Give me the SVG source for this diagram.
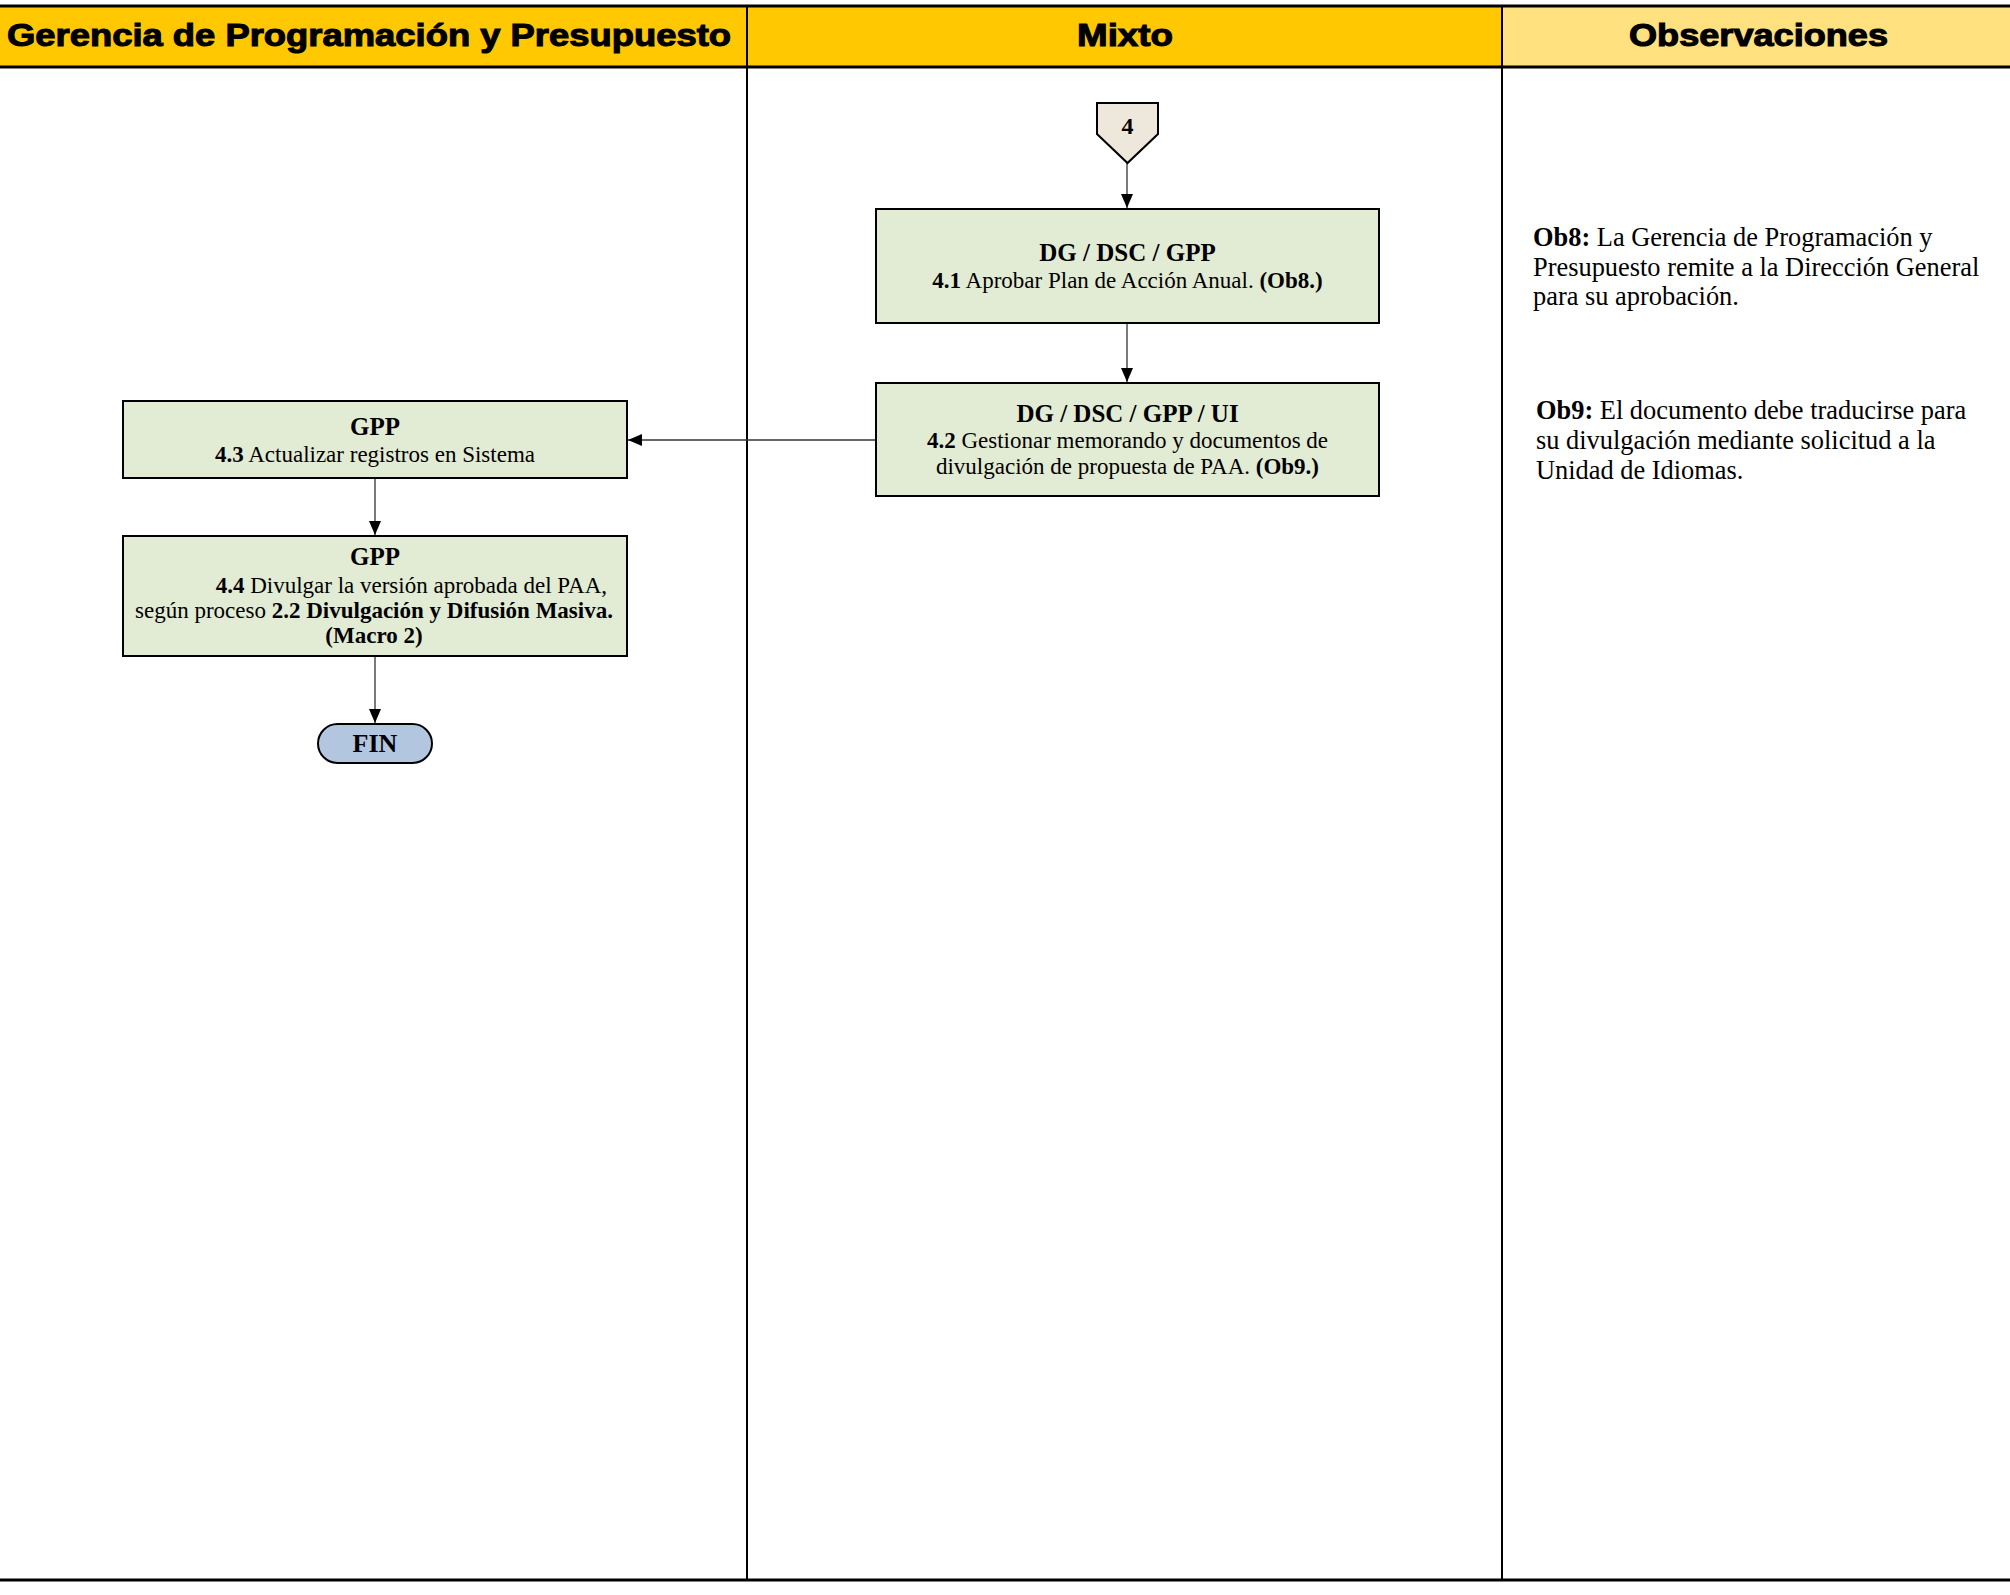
<svg xmlns="http://www.w3.org/2000/svg" width="2010" height="1595" viewBox="0 0 2010 1595">
<defs>
<style>
.hdr{font-family:"Liberation Sans",Arial,sans-serif;font-weight:bold;font-size:32px;fill:#000;stroke:#000;stroke-width:1.1}
.box{fill:#E2EBD4;stroke:#000;stroke-width:2}
.t{font-family:"Liberation Serif","Times New Roman",serif;font-size:23px;fill:#000;text-anchor:middle}
.ti{font-family:"Liberation Serif","Times New Roman",serif;font-size:25px;font-weight:bold;fill:#000;text-anchor:middle}
.ob{font-family:"Liberation Serif","Times New Roman",serif;font-size:26.4px;fill:#000}
.b{font-weight:bold}
.con{stroke:#333;stroke-width:1.3;fill:none}
</style>
<marker id="arr" markerWidth="14" markerHeight="14" viewBox="0 0 14 14" refX="14" refY="7" orient="auto" markerUnits="userSpaceOnUse">
<path d="M0,1 L14,7 L0,13 Z" fill="#000"/>
</marker>
</defs>
<rect width="2010" height="1595" fill="#fff"/>
<g id="headers">
<rect x="0" y="6" width="1502" height="61" fill="#FFC800"/>
<rect x="1502" y="6" width="508" height="61" fill="#FFE17F"/>
<line x1="0" y1="6" x2="2010" y2="6" stroke="#000" stroke-width="3"/>
<line x1="0" y1="67" x2="2010" y2="67" stroke="#000" stroke-width="3"/>
<text class="hdr" x="7" y="46" textLength="724" lengthAdjust="spacingAndGlyphs">Gerencia de Programación y Presupuesto</text>
<text class="hdr" x="1077" y="46" textLength="96" lengthAdjust="spacingAndGlyphs">Mixto</text>
<text class="hdr" x="1629" y="46" textLength="259" lengthAdjust="spacingAndGlyphs">Observaciones</text>
</g>
<g id="lanes">
<line x1="747" y1="6" x2="747" y2="1580" stroke="#000" stroke-width="2"/>
<line x1="1502" y1="6" x2="1502" y2="1580" stroke="#000" stroke-width="2"/>
<line x1="0" y1="1580" x2="2010" y2="1580" stroke="#000" stroke-width="3"/>
</g>
<g id="connectors">
<line class="con" x1="1127" y1="163" x2="1127" y2="208" marker-end="url(#arr)"/>
<line class="con" x1="1127" y1="323" x2="1127" y2="382" marker-end="url(#arr)"/>
<line class="con" x1="876" y1="440" x2="628" y2="440" marker-end="url(#arr)"/>
<line class="con" x1="375" y1="478" x2="375" y2="535" marker-end="url(#arr)"/>
<line class="con" x1="375" y1="656" x2="375" y2="723" marker-end="url(#arr)"/>
</g>
<g id="n-4">
<polygon points="1097,103 1158,103 1158,134 1127.5,163 1097,134" fill="#EEE8DC" stroke="#000" stroke-width="2"/>
<text class="ti" x="1127.5" y="134" style="font-size:24px">4</text>
</g>
<g id="n-4-1">
<rect class="box" x="876" y="209" width="503" height="114"/>
<text class="ti" x="1127.5" y="261">DG / DSC / GPP</text>
<text class="t" x="1127.5" y="288"><tspan class="b">4.1</tspan> Aprobar Plan de Acción Anual. <tspan class="b">(Ob8.)</tspan></text>
</g>
<g id="n-4-2">
<rect class="box" x="876" y="383" width="503" height="113"/>
<text class="ti" x="1127.5" y="422">DG / DSC / GPP / UI</text>
<text class="t" x="1127.5" y="448"><tspan class="b">4.2</tspan> Gestionar memorando y documentos de</text>
<text class="t" x="1127.5" y="474">divulgación de propuesta de PAA. <tspan class="b">(Ob9.)</tspan></text>
</g>
<g id="n-4-3">
<rect class="box" x="123" y="401" width="504" height="77"/>
<text class="ti" x="375" y="435">GPP</text>
<text class="t" x="375" y="462"><tspan class="b">4.3</tspan> Actualizar registros en Sistema</text>
</g>
<g id="n-4-4">
<rect class="box" x="123" y="536" width="504" height="120"/>
<text class="ti" x="375" y="565">GPP</text>
<text class="t" x="607" y="593" style="text-anchor:end"><tspan class="b">4.4</tspan> Divulgar la versión aprobada del PAA,</text>
<text class="t" x="374" y="618">según proceso <tspan class="b">2.2 Divulgación y Difusión Masiva.</tspan></text>
<text class="t b" x="374" y="643">(Macro 2)</text>
</g>
<g id="n-fin">
<rect x="318" y="724" width="114" height="39" rx="19.5" fill="#B3C6E0" stroke="#000" stroke-width="2"/>
<text class="ti" x="375" y="752" style="font-size:26px">FIN</text>
</g>
<g id="observaciones">
<text class="ob" x="1533" y="246"><tspan class="b">Ob8:</tspan> La Gerencia de Programación y</text>
<text class="ob" x="1533" y="276">Presupuesto remite a la Dirección General</text>
<text class="ob" x="1533" y="305">para su aprobación.</text>
<text class="ob" x="1536" y="419"><tspan class="b">Ob9:</tspan> El documento debe traducirse para</text>
<text class="ob" x="1536" y="449">su divulgación mediante solicitud a la</text>
<text class="ob" x="1536" y="479">Unidad de Idiomas.</text>
</g>
</svg>
